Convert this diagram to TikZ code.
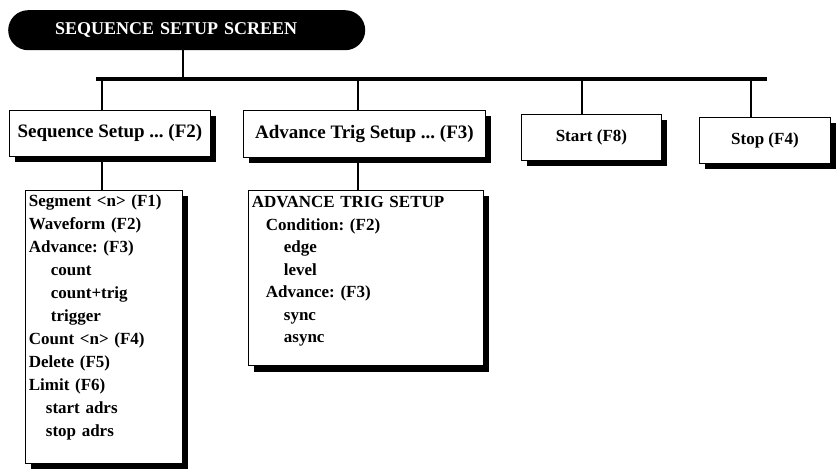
\documentclass[tikz,border=0pt]{standalone}
\usepackage{fontspec}
\setmainfont{Liberation Serif}
\usetikzlibrary{shadows}
\frenchspacing
\begin{document}
\begin{tikzpicture}[x=1pt,y=-1pt,
  bus/.style={line width=4pt},
  link/.style={line width=2pt},
  menubox/.style={draw=black, line width=0.8pt, fill=white, anchor=north west,
    general shadow={fill=black, shadow xshift=6pt, shadow yshift=-6pt},
    font=\fontsize{17}{19}\selectfont\bfseries, inner sep=2pt},
  widebox/.style={menubox, font=\fontsize{19}{21}\selectfont\bfseries},
  listbox/.style={menubox, align=left, anchor=north west, inner xsep=3pt},
  pill/.style={fill=black, text=white, rounded corners=20pt, anchor=north west,
    minimum height=40pt, text width=263pt, inner xsep=47pt, align=left,
    font=\fontsize{18}{20}\selectfont\bfseries}
]
\useasboundingbox (0,0) rectangle (837,468);

\node[pill] (title) at (8,10) {SEQUENCE SETUP SCREEN};

\coordinate (busL) at (96,79);
\coordinate (busR) at (767,79);

\node[widebox, minimum width=201pt, minimum height=46pt] (b1) at (9,110) {Sequence Setup ... (F2)};
\node[widebox, minimum width=242pt, minimum height=47pt] (b2) at (243,110) {Advance Trig Setup ... (F3)};
\node[menubox, minimum width=140pt, minimum height=46pt] (b3) at (521,114) {Start (F8)};
\node[menubox, minimum width=131pt, minimum height=46pt] (b4) at (699,117) {Stop (F4)};

\node[listbox, inner ysep=4pt, minimum width=157pt, text width=150pt, font=\fontsize{17}{23}\selectfont\bfseries] (seq) at (25,190)
 {Segment <n> (F1)\\
  Waveform (F2)\\
  Advance: (F3)\\
  \hspace*{22pt}count\\
  \hspace*{22pt}count+trig\\
  \hspace*{22pt}trigger\\
  Count <n> (F4)\\
  Delete (F5)\\
  Limit (F6)\\
  \hspace*{17pt}start adrs\\
  \hspace*{17pt}stop adrs\rule[-23pt]{0pt}{23pt}};

\node[listbox, inner ysep=6pt, minimum width=235pt, text width=228pt, font=\fontsize{17}{22.5}\selectfont\bfseries] (adv) at (248,190)
 {ADVANCE TRIG SETUP\\
  \hspace*{14pt}Condition: (F2)\\
  \hspace*{32pt}edge\\
  \hspace*{32pt}level\\
  \hspace*{14pt}Advance: (F3)\\
  \hspace*{32pt}sync\\
  \hspace*{32pt}async\rule[-17pt]{0pt}{17pt}};

\draw[bus] (busL) -- (busR);
\draw[link] ([xshift=-4pt]title.south) -- ([xshift=-4pt]title.south |- busL);
\draw[link] ([xshift=-8pt]b1.north |- busL) -- ([xshift=-8pt]b1.north);
\draw[link] ([xshift=-6pt]b2.north |- busL) -- ([xshift=-6pt]b2.north);
\draw[link] ([xshift=-9pt]b3.north |- busL) -- ([xshift=-9pt]b3.north);
\draw[link] ([xshift=-14pt]b4.north |- busL) -- ([xshift=-14pt]b4.north);
\draw[link] ([xshift=-8pt]b1.south) -- ([xshift=-8pt]b1.south |- seq.north);
\draw[link] ([xshift=-6pt]b2.south) -- ([xshift=-6pt]b2.south |- adv.north);
\end{tikzpicture}
\end{document}
